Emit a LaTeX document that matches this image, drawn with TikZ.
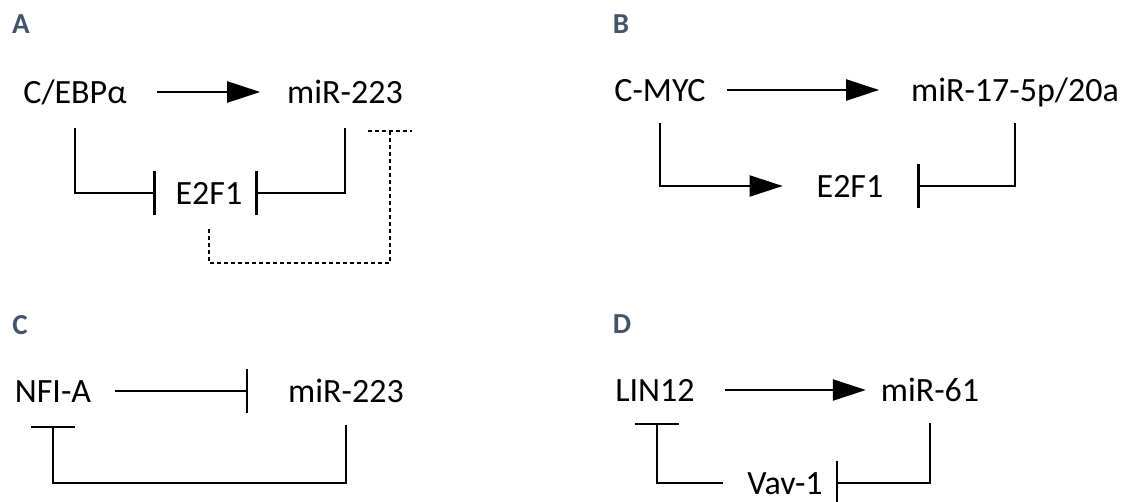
\documentclass[tikz,border=0pt]{standalone}
\usepackage{fontspec}
\setmainfont{Carlito}
\usepackage{xcolor}
\usetikzlibrary{arrows.meta,positioning}
\definecolor{panelblue}{HTML}{44546A}

\begin{document}
\begin{tikzpicture}[
  x=1pt, y=-1pt,
  font=\fontsize{34}{40}\selectfont,
  gene/.style={inner sep=0pt, outer sep=0pt, text height=22.4pt, text depth=0pt},
  panel/.style={inner sep=0pt, outer sep=0pt, text height=18.5pt, text depth=0pt,
                font=\fontsize{29}{32}\selectfont\bfseries, text=panelblue},
  act/.style={-{Triangle[length=33pt,width=21pt]}, line width=2.2pt},
  inh/.style={-{Bar[width=44pt]}, line width=2.2pt},
  weak/.style={line width=2.2pt, dash pattern=on 4pt off 3pt}
]
\useasboundingbox (0,0) rectangle (1125,502);

\node[panel] (pA) at (21,24) {A};
\node[panel] (pB) at (621,24) {B};
\node[panel] (pC) at (20,325) {C};
\node[panel] (pD) at (622,324) {D};

\node[gene] (cebpa) at (75,92) {C/EBPα};
\node[gene] (mir223a) at (345,92) {miR-223};
\node[gene] (e2f1a) at (209,193) {E2F1};
\coordinate (loopA) at (300,263);
\coordinate (dashtop) at (390,131);
\draw[act, shorten <=30pt, shorten >=27pt] (cebpa.east) -- (mir223a.west);
\draw[inh, shorten <=25pt, shorten >=20pt] (cebpa.south) |- (e2f1a.west);
\draw[inh, shorten <=25pt, shorten >=13pt] (mir223a.south) |- (e2f1a.east);
\draw[weak, shorten <=25pt] (e2f1a.south) |- (loopA) -| (dashtop);
\draw[weak] ([xshift=-22pt]dashtop) -- ([xshift=22pt]dashtop);

\node[gene] (cmyc) at (660,90) {C-MYC};
\node[gene] (mir17) at (1015,90) {miR-17-5p/20a};
\node[gene] (e2f1b) at (850,186) {E2F1};
\draw[act, shorten <=21pt, shorten >=32pt] (cmyc.east) -- (mir17.west);
\draw[act, shorten <=22pt, shorten >=34pt] (cmyc.south) |- (e2f1b.west);
\draw[inh, shorten <=22pt, shorten >=34pt] (mir17.south) |- (e2f1b.east);

\node[gene] (nfia) at (53,391) {NFI-A};
\node[gene] (mir223c) at (346,391) {miR-223};
\coordinate (loopC) at (200,483);
\draw[inh, shorten <=24pt, shorten >=40pt] (nfia.east) -- (mir223c.west);
\draw[inh, shorten <=23pt, shorten >=24pt] (mir223c.south) |- (loopC) -| (nfia.south);

\node[gene] (lin12) at (655,390) {LIN12};
\node[gene] (mir61) at (930,390) {miR-61};
\node[gene] (vav) at (785,483) {Vav-1};
\draw[act, shorten <=30pt, shorten >=15pt] (lin12.east) -- (mir61.west);
\draw[inh, shorten <=22pt, shorten >=13pt] (mir61.south) |- (vav.east);
\draw[inh, shorten <=24pt, shorten >=22pt] (vav.west) -| ([xshift=2pt]lin12.south);
\end{tikzpicture}
\end{document}
